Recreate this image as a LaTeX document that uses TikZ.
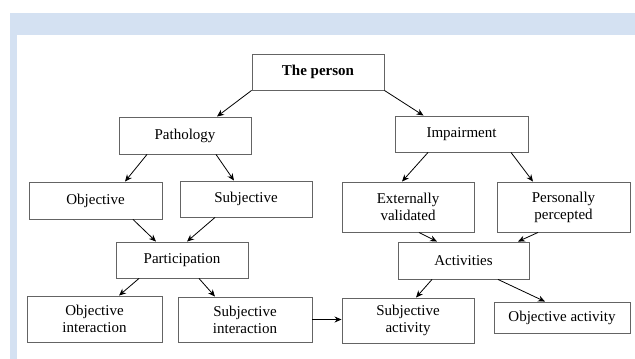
\documentclass[tikz,border=0pt]{standalone}
\usepackage{fontspec}
\setmainfont{Liberation Serif}
\usetikzlibrary{arrows.meta}
\definecolor{bandblue}{RGB}{212,225,242}
\definecolor{boxgray}{RGB}{100,100,100}
\tikzset{
  box/.style={draw=boxgray, line width=0.9pt, rectangle, inner sep=0pt, align=center,
    font=\fontsize{15}{17}\selectfont},
  arr/.style={line width=0.8pt, -{Stealth[length=7pt,width=6pt]}}
}
\begin{document}
\begin{tikzpicture}[x=1pt,y=-1pt]
%\draw [help lines] (0,0) grid (635,359);
\useasboundingbox (0,0) rectangle (635,359);
\fill [white] (0,0) rectangle (635,359);
\fill [bandblue] (10,13) rectangle (635,35);
\fill [bandblue] (10,13) rectangle (17,359);

\node [box, minimum width=132pt, minimum height=36pt] (person) at (318,72) {\textbf{The person}};

\node [box, minimum width=132pt, minimum height=37pt] (patho) at (185,135.5) {Pathology};
\node [box, minimum width=133pt, minimum height=36pt] (impair) at (461.5,134) {Impairment};

\node [box, minimum width=133pt, minimum height=37pt] (obj) at (95.5,200.5) {Objective};
\node [box, minimum width=132pt, minimum height=36pt] (subj) at (246,199) {Subjective};
\node [box, minimum width=132pt, minimum height=50pt] (ext) at (408,207) {Externally\\validated};
\node [box, minimum width=133pt, minimum height=50pt] (pers) at (563.5,207) {Personally\\percepted};

\node [box, minimum width=132pt, minimum height=36pt] (partic) at (182,260) {Participation};
\node [box, minimum width=131pt, minimum height=37pt] (activ) at (463.5,260.5) {Activities};

\node [box, minimum width=135pt, minimum height=46pt] (objint) at (94.5,319) {Objective\\interaction};
\node [box, minimum width=134pt, minimum height=45pt] (subjint) at (245,319.5) {Subjective\\interaction};
\node [box, minimum width=132pt, minimum height=45pt] (subjact) at (408,320.5) {Subjective\\activity};
\node [box, minimum width=136pt, minimum height=31pt] (objact) at (562,317.5) {Objective activity};

% top level
\draw [arr] (person.south west) -- ([xshift=32pt]patho.north);
\draw [arr] (person.south east) -- ([xshift=-38pt]impair.north);

% left branch
\draw [arr] ([xshift=-38pt]patho.south) -- ([xshift=29.5pt]obj.north);
\draw [arr] ([xshift=31pt]patho.south) -- ([xshift=-12pt]subj.north);
\draw [arr] ([xshift=37.5pt]obj.south) -- ([xshift=-26pt]partic.north);
\draw [arr] ([xshift=-31pt]subj.south) -- ([xshift=5pt]partic.north);
\draw [arr] ([xshift=-43pt]partic.south) -- ([xshift=24.5pt]objint.north);
\draw [arr] ([xshift=17pt]partic.south) -- ([xshift=-30pt]subjint.north);

% right branch
\draw [arr] ([xshift=-33.5pt]impair.south) -- ([xshift=-6pt]ext.north);
\draw [arr] ([xshift=49.5pt]impair.south) -- ([xshift=-30.5pt]pers.north);
\draw [arr] ([xshift=11pt]ext.south) -- ([xshift=-26.5pt]activ.north);
\draw [arr] ([xshift=-25.5pt]pers.south) -- ([xshift=54.5pt]activ.north);
\draw [arr] ([xshift=-31.5pt]activ.south) -- ([xshift=8pt]subjact.north);
\draw [arr] ([xshift=34.5pt]activ.south) -- ([xshift=-17pt]objact.north);

\draw [arr] (subjint.east) -- (subjint.east -| subjact.west);

\end{tikzpicture}
\end{document}
